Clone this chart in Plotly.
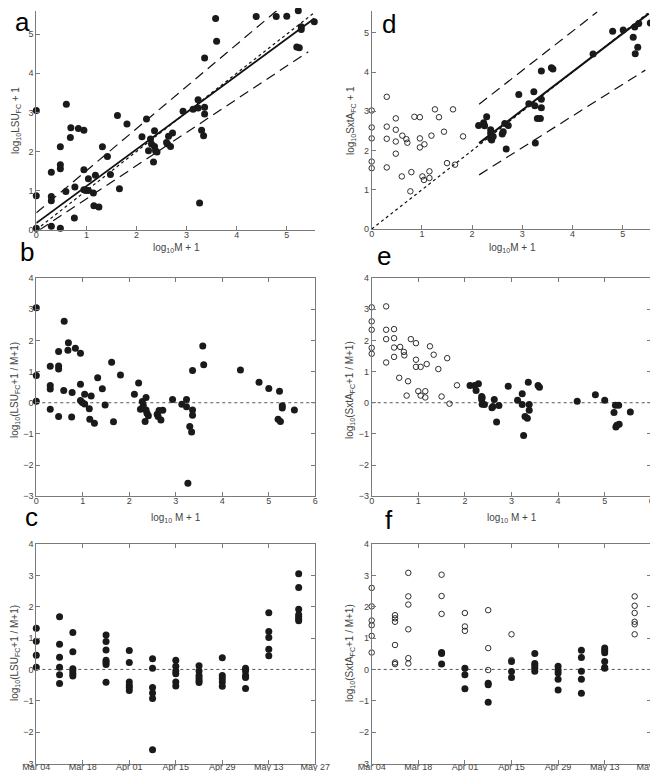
import plotly.graph_objects as go

W, H = 658, 771

# ---------------- Panel a: log10 M + 1 vs log10 LSU_FC + 1 ----------------
a_m = [0, 0, 0, 0.30, 0.30, 0.30, 0.30, 0.48, 0.48, 0.48, 0.48, 0.60, 0.59, 0.69, 0.68,
       0.77, 0.76, 0.84, 0.95, 0.95, 0.95, 0.99, 1.04, 1.04, 1.14, 1.15, 1.18, 1.25, 1.32,
       1.42, 1.48, 1.62, 1.66, 1.81, 2.11, 2.20, 2.24, 2.28, 2.30, 2.34, 2.36, 2.36, 2.38,
       2.41, 2.60, 2.62, 2.64, 2.68, 2.72, 2.93, 3.13, 3.23, 3.23, 3.26, 3.30, 3.34, 3.36,
       3.36, 3.36, 3.58, 3.60, 4.39, 4.79, 5.00, 5.20, 5.23, 5.25, 5.29, 5.29, 5.55]
a_lsu = [3.05, 0.87, 0.04, 1.47, 0.85, 0.74, 0.09, 2.12, 1.66, 1.56, 0.04, 3.21, 0.98, 2.61, 2.36,
         1.09, 0.30, 2.59, 2.54, 1.53, 1.02, 1.00, 1.00, 1.30, 0.94, 0.61, 1.39, 0.58, 2.12,
         1.87, 1.41, 2.92, 1.05, 2.70, 2.38, 2.83, 2.02, 2.32, 2.19, 1.73, 2.53, 2.13, 2.02,
         1.99, 2.23, 2.19, 2.39, 2.13, 2.47, 3.03, 3.08, 3.32, 3.11, 0.68, 2.54, 2.40, 4.39,
         3.13, 2.96, 5.40, 4.82, 5.45, 5.45, 5.46, 4.67, 5.60, 4.65, 5.19, 5.12, 5.32]
a_fit_x = [0, 5.55]
a_fit_y = [0.17, 5.40]
a_upper_x = [0, 4.80]
a_upper_y = [0.43, 5.60]
a_lower_x = [0.07, 5.43]
a_lower_y = [0, 4.55]
one_to_one = [0, 5.57]

# ---------------- Panel b: residual vs log10 M + 1 ----------------
b_m = a_m
b_res = [3.05, 0.87, 0.05, 1.17, 0.55, 0.44, -0.21, 1.64, 1.18, 1.08, -0.44, 2.61, 0.39, 1.92, 1.68,
         0.33, -0.46, 1.75, 1.59, 0.59, 0.07, 0.01, -0.04, 0.27, -0.19, -0.53, 0.22, -0.66, 0.80,
         0.45, -0.07, 1.30, -0.61, 0.89, 0.27, 0.63, -0.21, 0.04, -0.09, -0.60, 0.17, -0.23, -0.34,
         -0.42, -0.37, -0.44, -0.25, -0.55, -0.24, 0.10, -0.05, 0.10, -0.13, -2.58, -0.76, -0.94, 1.03,
         -0.23, -0.40, 1.82, 1.22, 1.05, 0.66, 0.46, -0.53, 0.37, -0.60, -0.10, -0.17, -0.23]

# ---------------- Panel c: residual vs date ----------------
c_dates = ["2017-03-04", "2017-03-11", "2017-03-15", "2017-03-25", "2017-04-01", "2017-04-08",
           "2017-04-15", "2017-04-22", "2017-04-29", "2017-05-06", "2017-05-13", "2017-05-22"]
c_values = [[1.31, 0.90, 0.45, 0.07],
            [1.68, 0.80, 0.39, 0.07, -0.17, -0.45],
            [1.18, 0.56, 0.02, -0.05, -0.14, -0.21],
            [1.10, 0.89, 0.62, 0.29, 0.23, 0.16, -0.41],
            [0.60, 0.22, -0.40, -0.51, -0.58, -0.67],
            [0.34, 0.04, -0.58, -0.75, -0.93, -2.56],
            [0.29, 0.10, -0.05, -0.14, -0.40, -0.53],
            [0.12, -0.05, -0.19, -0.27, -0.35, -0.42],
            [0.37, -0.19, -0.30, -0.40, -0.54],
            [0.04, -0.05, -0.19, -0.26, -0.61],
            [1.81, 1.21, 1.02, 0.64, 0.44],
            [3.05, 2.61, 1.92, 1.74, 1.68, 1.61, 1.55]]

# ---------------- Panel d: log10 M + 1 vs log10 SxtA_FC + 1 ----------------
d_open_m = [0, 0, 0, 0, 0, 0.30, 0.30, 0.30, 0.30, 0.48, 0.48, 0.48, 0.48, 0.60, 0.61, 0.69,
            0.71, 0.77, 0.79, 0.85, 0.96, 0.96, 0.96, 1.01, 1.04, 1.05, 1.15, 1.15, 1.19, 1.26,
            1.34, 1.44, 1.50, 1.62, 1.66, 1.82]
d_open_sxta = [3.02, 2.59, 2.31, 1.72, 1.55, 3.37, 2.61, 2.30, 1.57, 2.82, 2.53, 2.23, 1.92, 1.34,
               2.38, 2.29, 2.20, 0.96, 1.45, 2.86, 2.85, 2.31, 2.08, 1.34, 1.25, 2.16, 1.47, 1.30,
               2.38, 3.05, 2.85, 2.48, 1.68, 3.05, 1.64, 2.36]
d_fill_m = [2.13, 2.23, 2.25, 2.29, 2.37, 2.37, 2.37, 2.39, 2.42, 2.60, 2.62, 2.65, 2.68, 2.72,
            2.93, 3.13, 3.23, 3.25, 3.26, 3.30, 3.36, 3.38, 3.38, 3.38, 3.58, 3.61, 4.41, 4.80,
            5.01, 5.21, 5.24, 5.25, 5.30, 5.32, 5.55]
d_fill_sxta = [2.64, 2.71, 2.63, 2.86, 2.53, 2.44, 2.31, 2.27, 2.36, 2.42, 2.48, 2.69, 2.04, 2.64,
               3.43, 3.19, 3.50, 3.14, 2.19, 2.82, 2.82, 3.31, 3.09, 4.03, 4.11, 4.08, 4.46, 5.04,
               5.07, 4.89, 5.15, 4.47, 4.63, 5.24, 5.25]
d_fit_x = [2.14, 5.52]
d_fit_y = [2.19, 5.49]
d_upper_x = [2.14, 4.49]
d_upper_y = [3.18, 5.53]
d_lower_x = [2.14, 5.45]
d_lower_y = [1.38, 4.05]

# ---------------- Panel e: residual vs log10 M + 1 ----------------
e_open_m = [0, 0, 0, 0, 0, 0.31, 0.31, 0.31, 0.31, 0.48, 0.48, 0.48, 0.48, 0.59, 0.61, 0.69,
            0.70, 0.75, 0.78, 0.84, 0.95, 0.95, 0.95, 1.00, 1.05, 1.05, 1.15, 1.15, 1.18, 1.25,
            1.33, 1.43, 1.50, 1.62, 1.67, 1.83]
e_open_res = [3.06, 2.61, 2.34, 1.76, 1.57, 3.09, 2.34, 2.04, 1.29, 2.36, 2.07, 1.77, 1.47, 0.80,
              1.79, 1.63, 1.52, 0.23, 0.69, 2.04, 1.91, 1.38, 1.15, 0.37, 0.23, 1.15, 0.37, 0.17,
              1.24, 1.81, 1.54, 1.08, 0.20, 1.43, -0.03, 0.56]
e_fill_m = [2.11, 2.21, 2.24, 2.29, 2.36, 2.36, 2.37, 2.37, 2.42, 2.58, 2.60, 2.63, 2.68, 2.73,
            2.93, 3.13, 3.23, 3.23, 3.26, 3.29, 3.34, 3.36, 3.38, 3.38, 3.57, 3.60, 4.41, 4.80,
            5.00, 5.20, 5.23, 5.24, 5.26, 5.30, 5.31, 5.55]
e_fill_res = [0.55, 0.55, 0.39, 0.61, 0.20, 0.10, -0.05, 0.17, -0.06, -0.16, -0.12, 0.10, -0.62,
              -0.09, 0.53, 0.08, -0.06, 0.29, -1.05, -0.44, -0.50, 0.66, -0.06, -0.24, 0.55, 0.50,
              0.05, 0.26, 0.08, -0.31, -0.08, -0.78, -0.72, -0.08, -0.69, -0.30]

# ---------------- Panel f: residual vs date ----------------
f_dates = c_dates
f_open_values = [[2.60, 2.01, 1.56, 1.41, 1.07, 0.54],
                 [1.73, 1.63, 1.52, 0.78, 0.22, 0.17],
                 [3.08, 2.33, 2.07, 1.28, 0.36, 0.19],
                 [3.02, 2.34, 1.77],
                 [1.80, 1.37, 1.23],
                 [1.89, 0.68, -0.02],
                 [1.12, 0.30],
                 [],
                 [],
                 [],
                 [],
                 [2.33, 2.03, 1.80, 1.52, 1.44, 1.12]]
f_fill_values = [[],
                 [],
                 [],
                 [0.54, 0.51, 0.17],
                 [0.04, -0.17, -0.62],
                 [-0.44, -0.49, -1.05],
                 [0.25, -0.07, -0.26],
                 [0.51, 0.19, 0.12, 0.04, -0.06],
                 [0.10, -0.02, -0.11, -0.31, -0.66],
                 [0.61, 0.38, -0.06, -0.31, -0.76],
                 [0.68, 0.61, 0.53, 0.25, 0.06, 0.04],
                 []]

date_ticks = ["2017-03-04", "2017-03-18", "2017-04-01", "2017-04-15", "2017-04-29",
              "2017-05-13", "2017-05-27"]


def flatten(dates, groups):
    xs, ys = [], []
    for d, g in zip(dates, groups):
        for v in g:
            xs.append(d)
            ys.append(v)
    return xs, ys


DOT = "#1a1a1a"
AX = "#7a7a7a"
TXT = "#444444"
FONT = "Liberation Sans, Arial, sans-serif"

fill_marker = dict(color=DOT, size=7, line=dict(width=0))
open_marker = dict(color=DOT, size=5.5, symbol="circle-open", line=dict(width=0.9))

fig = go.Figure()


def scatter(x, y, xa, ya, marker):
    fig.add_trace(go.Scatter(x=x, y=y, mode="markers", marker=marker,
                             xaxis=xa, yaxis=ya, showlegend=False, cliponaxis=False))


def line(x, y, xa, ya, dash, color="#111111", width=1.5):
    fig.add_trace(go.Scatter(x=x, y=y, mode="lines", line=dict(color=color, width=width, dash=dash),
                             xaxis=xa, yaxis=ya, showlegend=False, hoverinfo="skip"))


# a  (x, y)
line(one_to_one, one_to_one, "x", "y", "dot", width=1.2)
line(a_upper_x, a_upper_y, "x", "y", "10px,6px", width=1.2)
line(a_lower_x, a_lower_y, "x", "y", "10px,6px", width=1.2)
line(a_fit_x, a_fit_y, "x", "y", "solid", width=1.8)
scatter(a_m, a_lsu, "x", "y", fill_marker)

# b  (x2, y2)
line([0, 6], [0, 0], "x2", "y2", "dot", color="#555555", width=1)
scatter(b_m, b_res, "x2", "y2", fill_marker)

# c  (x3, y3)
line([date_ticks[0], date_ticks[-1]], [0, 0], "x3", "y3", "dot", color="#555555", width=1)
cx, cy = flatten(c_dates, c_values)
scatter(cx, cy, "x3", "y3", fill_marker)

# d  (x4, y4)
line([0, 5.5], [0, 5.5], "x4", "y4", "dot", width=1.2)
line(d_upper_x, d_upper_y, "x4", "y4", "10px,6px", width=1.2)
line(d_lower_x, d_lower_y, "x4", "y4", "10px,6px", width=1.2)
line(d_fit_x, d_fit_y, "x4", "y4", "solid", width=2)
scatter(d_open_m, d_open_sxta, "x4", "y4", open_marker)
scatter(d_fill_m, d_fill_sxta, "x4", "y4", fill_marker)

# e  (x5, y5)
line([0, 6], [0, 0], "x5", "y5", "dot", color="#555555", width=1)
scatter(e_open_m, e_open_res, "x5", "y5", open_marker)
scatter(e_fill_m, e_fill_res, "x5", "y5", fill_marker)

# f  (x6, y6)
line([date_ticks[0], date_ticks[-1]], [0, 0], "x6", "y6", "dot", color="#555555", width=1)
fox, foy = flatten(f_dates, f_open_values)
ffx, ffy = flatten(f_dates, f_fill_values)
scatter(fox, foy, "x6", "y6", open_marker)
scatter(ffx, ffy, "x6", "y6", fill_marker)


def px_x(p):
    return p / W


def px_y(p):
    return 1 - p / H


LX = [px_x(28.3), px_x(307.3)]
RX = [px_x(363.7), px_x(643.3)]
ROW_A = [px_y(221.7), px_y(2.7)]
ROW_D = [px_y(221.0), px_y(2.5)]
ROW_B = [px_y(488.3), px_y(270.0)]
ROW_C = [px_y(755.5), px_y(536.0)]

common = dict(showgrid=False, zeroline=False, showline=True, linecolor=AX, linewidth=1,
              ticks="inside", ticklen=4, tickcolor=AX, tickwidth=1, automargin=False,
              ticklabeloverflow="allow",
              tickfont=dict(family=FONT, size=9, color=TXT))
xcommon = dict(ticklabelstandoff=-4, **common)
dcommon = dict(ticklabelstandoff=-5, **common)

lay = dict(
    width=W, height=H, margin=dict(l=0, r=0, t=0, b=0, pad=0, autoexpand=False),
    paper_bgcolor="white", plot_bgcolor="white", showlegend=False,
    font=dict(family=FONT, size=10, color=TXT),
    xaxis=dict(domain=LX, range=[0, 5.57], tickvals=[0, 1, 2, 3, 4, 5], anchor="y", **xcommon),
    yaxis=dict(domain=ROW_A, range=[0, 5.6], tickvals=[0, 1, 2, 3, 4, 5], anchor="x", **common),
    xaxis2=dict(domain=LX, range=[0, 6], dtick=1, anchor="y2", mirror="ticks", **xcommon),
    yaxis2=dict(domain=ROW_B, range=[-3, 4], dtick=1, anchor="x2", mirror="ticks", **common),
    xaxis3=dict(domain=LX, type="date", range=[date_ticks[0], date_ticks[-1]], tickvals=date_ticks,
                tickformat="%b %d", anchor="y3", mirror="ticks", **dcommon),
    yaxis3=dict(domain=ROW_C, range=[-3, 4], dtick=1, anchor="x3", mirror="ticks", **common),
    xaxis4=dict(domain=RX, range=[0, 5.57], tickvals=[0, 1, 2, 3, 4, 5], anchor="y4", **xcommon),
    yaxis4=dict(domain=ROW_D, range=[0, 5.57], tickvals=[0, 1, 2, 3, 4, 5], anchor="x4", **common),
    xaxis5=dict(domain=RX, range=[0, 6], dtick=1, anchor="y5", mirror="ticks", **xcommon),
    yaxis5=dict(domain=ROW_B, range=[-3, 4], dtick=1, anchor="x5", mirror="ticks", **common),
    xaxis6=dict(domain=RX, type="date", range=[date_ticks[0], date_ticks[-1]], tickvals=date_ticks,
                tickformat="%b %d", anchor="y6", mirror="ticks", **dcommon),
    yaxis6=dict(domain=ROW_C, range=[-3, 4], dtick=1, anchor="x6", mirror="ticks", **common),
)
fig.update_layout(**lay)

annotations = []


def note(text, x, y, size=10, angle=0, color=TXT):
    annotations.append(dict(text=text, x=px_x(x), y=px_y(y), xref="paper", yref="paper",
                            showarrow=False, xanchor="center", yanchor="middle", textangle=angle,
                            font=dict(family=FONT, size=size, color=color)))


# panel letters
for letter, x, y in [("a", 14, 13.5), ("b", 19, 244), ("c", 23, 508.5),
                     ("d", 381, 15.5), ("e", 376, 248.5), ("f", 381, 512)]:
    note(letter, x, y, size=26, color="#000000")

# axis titles
note("log<sub>10</sub>M + 1", 168, 240)
note("log<sub>10</sub>LSU<sub>FC</sub> + 1", 8, 113, angle=-90)
note("log<sub>10</sub> M + 1", 168, 510)
note("log<sub>10</sub>(LSU<sub>FC</sub>+1 / M+1)", 7, 382, angle=-90)
note("log<sub>10</sub>(LSU<sub>FC</sub>+1 / M+1)", 7, 645, angle=-90)
note("log<sub>10</sub>M + 1", 504, 240)
note("log<sub>10</sub>SxtA<sub>FC</sub> + 1", 343, 113, angle=-90)
note("log<sub>10</sub> M + 1", 504, 510)
note("log<sub>10</sub>(SxtA<sub>FC</sub>+1 / M+1)", 342, 382, angle=-90)
note("log<sub>10</sub>(SxtA<sub>FC</sub>+1 / M+1)", 342, 645, angle=-90)

fig.update_layout(annotations=annotations)
fig.write_html("out.html")
